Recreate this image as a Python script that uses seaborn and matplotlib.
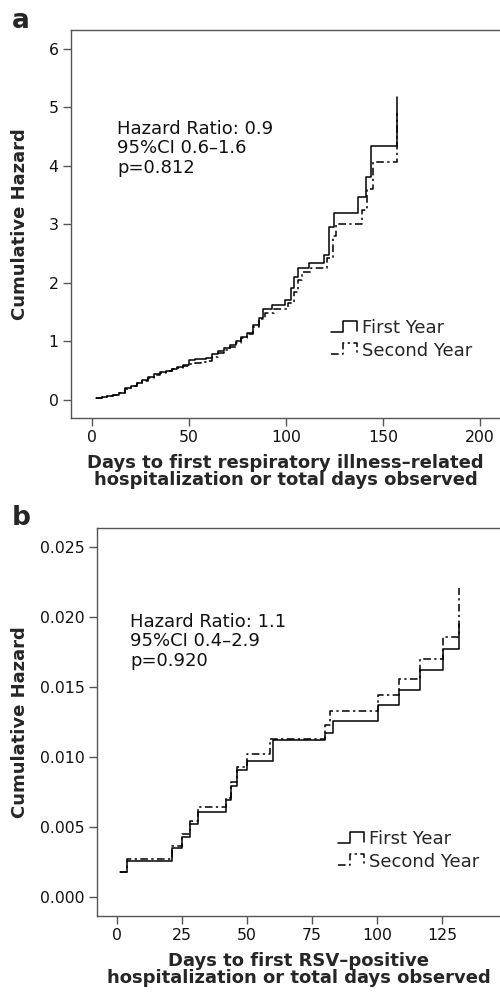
import matplotlib
matplotlib.use("Agg")
import matplotlib.pyplot as plt
import seaborn as sns
import pandas as pd
from matplotlib.legend_handler import HandlerBase
from matplotlib.lines import Line2D
from matplotlib.ticker import FormatStrFormatter

# ---------------- data ----------------
groups = ["First Year", "Second Year"]

# Panel a: respiratory illness-related hospitalization
a_first_days = [2, 5, 8, 11, 14, 17, 20, 23, 26, 29, 32, 35, 38, 41, 44, 47, 50,
                53, 56, 59, 62, 65, 68, 71, 74, 77, 80, 83, 86, 88, 93, 99.5,
                102.5, 104, 106, 112, 119.5, 122, 125, 137, 141, 144, 157]
a_first_hz = [0.03, 0.05, 0.07, 0.09, 0.11, 0.20, 0.24, 0.29, 0.34, 0.39, 0.44,
              0.47, 0.50, 0.53, 0.56, 0.60, 0.68, 0.69, 0.70, 0.72, 0.78, 0.83,
              0.88, 0.93, 1.00, 1.08, 1.15, 1.28, 1.40, 1.55, 1.62, 1.71, 1.91,
              2.10, 2.25, 2.34, 2.48, 2.96, 3.20, 3.47, 3.81, 4.33, 5.18]
a_second_days = [2, 5, 8, 11, 14, 17, 20, 23, 26, 29, 32, 35, 38, 41, 44, 47, 50,
                 53, 56, 59, 62, 65, 68, 71, 74, 77, 80, 83, 86, 89, 94, 101,
                 104, 106, 108, 113, 121, 124, 126, 139, 142, 145, 157]
a_second_hz = [0.03, 0.05, 0.07, 0.09, 0.11, 0.19, 0.23, 0.28, 0.33, 0.38, 0.43,
               0.46, 0.49, 0.52, 0.55, 0.58, 0.62, 0.63, 0.64, 0.66, 0.74, 0.80,
               0.85, 0.90, 0.97, 1.05, 1.12, 1.25, 1.38, 1.48, 1.55, 1.66, 1.85,
               2.05, 2.18, 2.26, 2.42, 2.80, 3.00, 3.25, 3.60, 4.07, 4.90]
a_xticks = [0, 50, 100, 150, 200]
a_yticks = [0, 1, 2, 3, 4, 5, 6]
a_text = "Hazard Ratio: 0.9\n95%CI 0.6\u20131.6\np=0.812"
a_xlabel = "Days to first respiratory illness\u2013related\nhospitalization or total days observed"

# Panel b: RSV-positive hospitalization
b_first_days = [1.2, 3.8, 21, 25, 28, 31, 42, 44, 46, 50, 60, 80, 83, 100.5,
                108.5, 116.5, 125.5, 131.5]
b_first_hz = [0.0018, 0.00257, 0.0035, 0.0043, 0.0052, 0.0061, 0.0069, 0.0079,
              0.0091, 0.0097, 0.0112, 0.0117, 0.0126, 0.0137, 0.0148, 0.0162,
              0.0177, 0.0195]
b_second_days = [1.2, 3.8, 21, 25, 28, 31, 42, 44, 46, 50, 59, 80, 82, 100.5,
                 108.5, 116.5, 125.5, 131.5]
b_second_hz = [0.0018, 0.0027, 0.00364, 0.0045, 0.0054, 0.0064, 0.0071, 0.0082,
               0.0093, 0.0102, 0.0113, 0.0123, 0.0133, 0.0144, 0.0156, 0.0170,
               0.0186, 0.0221]
b_xticks = [0, 25, 50, 75, 100, 125]
b_yticks = [0.000, 0.005, 0.010, 0.015, 0.020, 0.025]
b_text = "Hazard Ratio: 1.1\n95%CI 0.4\u20132.9\np=0.920"
b_xlabel = "Days to first RSV\u2013positive\nhospitalization or total days observed"


def make_df(fd, fh, sd, sh):
    return pd.concat([
        pd.DataFrame({"day": fd, "hz": fh, "group": groups[0]}),
        pd.DataFrame({"day": sd, "hz": sh, "group": groups[1]}),
    ], ignore_index=True)


class StepHandler(HandlerBase):
    def create_artists(self, legend, orig_handle, xdescent, ydescent, width,
                       height, fontsize, trans):
        x0, y0 = -xdescent, -ydescent
        xs = [x0, x0 + 0.45 * width, x0 + 0.45 * width, x0 + 0.95 * width,
              x0 + 0.95 * width]
        ys = [y0 + 0.05 * height, y0 + 0.05 * height, y0 + 1.0 * height,
              y0 + 1.0 * height, y0 + 0.15 * height]
        ln = Line2D(xs, ys)
        ln.update_from(orig_handle)
        ln.set_data(xs, ys)
        ln.set_transform(trans)
        return [ln]


sns.set_theme(style="white")
plt.rcParams["font.family"] = ["DejaVu Sans"]

W, H = 500, 992
fig = plt.figure(figsize=(W / 100, H / 100), dpi=100)

SPINE = "#555555"


def px_axes(left, top, right, bottom):
    return fig.add_axes([left / W, 1 - bottom / H, (right - left) / W,
                         (bottom - top) / H])


def style_axes(ax):
    for s in ["top", "left", "bottom"]:
        ax.spines[s].set_visible(True)
        ax.spines[s].set_color(SPINE)
        ax.spines[s].set_linewidth(1.0)
    ax.spines["right"].set_visible(False)
    ax.tick_params(axis="both", which="major", direction="out", length=6,
                   width=1.0, color=SPINE, labelsize=11.3, labelcolor="#111111",
                   pad=3, left=True, bottom=True)


def panel(ax, df, xlim, ylim, xticks, yticks, text, text_pos, xlabel,
          ylabel_x, leg_anchor, fmt=None):
    sns.lineplot(data=df, x="day", y="hz", style="group", style_order=groups,
                 dashes={groups[0]: "", groups[1]: (5, 2.2, 1.5, 2.2)},
                 color="black", linewidth=1.1, drawstyle="steps-post",
                 estimator=None, legend=False, ax=ax)
    ax.set_xlim(*xlim)
    ax.set_ylim(*ylim)
    ax.set_xticks(xticks)
    ax.set_yticks(yticks)
    if fmt:
        ax.yaxis.set_major_formatter(FormatStrFormatter(fmt))
    style_axes(ax)
    ax.set_xlabel(xlabel, fontsize=13, fontweight="bold", linespacing=0.95,
                  labelpad=6)
    ax.set_ylabel("Cumulative Hazard", fontsize=13, fontweight="bold",
                  va="center")
    ax.yaxis.set_label_coords(ylabel_x, 0.5)
    ax.text(text_pos[0], text_pos[1], text, transform=ax.transAxes,
            fontsize=13, va="top", ha="left", linespacing=1.1,
            color="#111111")
    handles = ax.get_lines()[:2]
    ax.legend(handles, groups, handler_map={Line2D: StepHandler()},
              loc="upper left", bbox_to_anchor=leg_anchor, frameon=False,
              fontsize=13, handlelength=1.5, handleheight=0.6,
              handletextpad=0.2, labelspacing=0.25, borderpad=0,
              borderaxespad=0)


# Panel a
ax_a = px_axes(71, 30, 500, 418)
panel(ax_a, make_df(a_first_days, a_first_hz, a_second_days, a_second_hz),
      xlim=(-10.8, 210.3), ylim=(-0.31, 6.32), xticks=a_xticks,
      yticks=a_yticks, text=a_text,
      text_pos=((117 - 71) / 429, (418 - 120) / 388), xlabel=a_xlabel,
      ylabel_x=(20 - 71) / 429,
      leg_anchor=((331 - 71) / 429, (418 - 319) / 388))

# Panel b
ax_b = px_axes(97, 528, 500, 916)
panel(ax_b, make_df(b_first_days, b_first_hz, b_second_days, b_second_hz),
      xlim=(-7.7, 147.3), ylim=(-0.00136, 0.02636), xticks=b_xticks,
      yticks=b_yticks, text=b_text,
      text_pos=((130 - 97) / 403, (916 - 613) / 388), xlabel=b_xlabel,
      ylabel_x=(20 - 97) / 403,
      leg_anchor=((338 - 97) / 403, (916 - 830) / 388), fmt="%.3f")

fig.text(12 / W, 1 - 8 / H, "a", fontsize=19, fontweight="bold",
         va="top", ha="left")
fig.text(12 / W, 1 - 505 / H, "b", fontsize=19, fontweight="bold",
         va="top", ha="left")

fig.savefig("out.png", dpi=100)
